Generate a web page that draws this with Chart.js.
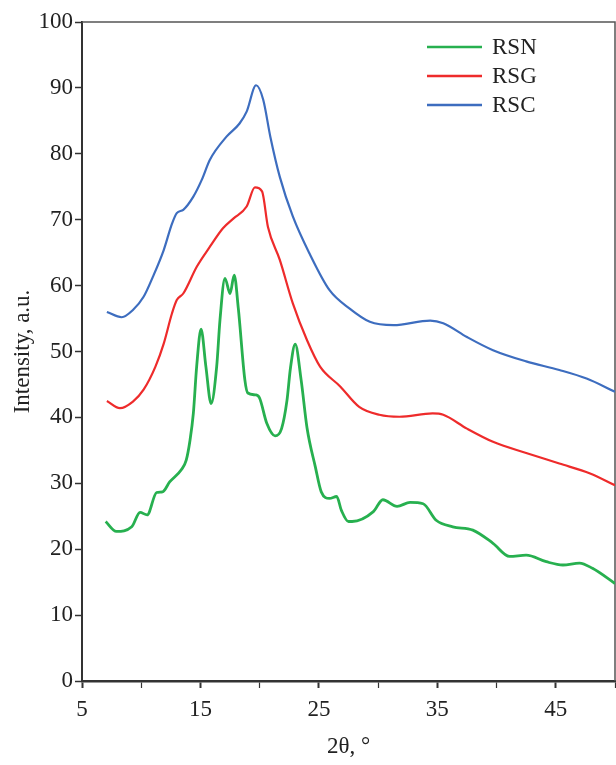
<!DOCTYPE html>
<html>
<head>
<meta charset="utf-8">
<script src="https://cdn.jsdelivr.net/npm/chart.js@4.4.1/dist/chart.umd.min.js"></script>
<style>
  html, body { margin: 0; padding: 0; background: #fff; }
  #wrap { width: 616px; height: 765px; }
</style>
</head>
<body>
<div id="wrap"><canvas id="xrd"></canvas></div>
<script>
// XRD patterns
const rsnX = [7.0, 7.9, 9.2, 9.9, 10.5, 11.3, 11.8, 12.4, 13.4, 13.8, 14.1, 14.4, 14.68, 15.05, 15.46, 15.9, 16.37, 16.65, 17.07, 17.5, 17.85, 18.2, 18.75, 19.0, 19.7, 20.0, 20.6, 21.3, 21.85, 22.3, 22.6, 23.0, 23.5, 24.0, 24.7, 25.2, 25.9, 26.5, 26.9, 27.5, 27.8, 29.6, 30.4, 31.6, 32.7, 33.8, 34.9, 36.3, 38.0, 39.7, 41.1, 42.5, 44.2, 45.6, 47.0, 48.1, 50];
const rsnY = [24.2, 22.7, 23.4, 25.6, 25.2, 28.6, 28.7, 30.2, 32.1, 33.5, 36.3, 40.6, 47.7, 53.4, 47.7, 42.1, 47.7, 54.8, 61.1, 58.8, 61.6, 56.5, 45.7, 43.7, 43.4, 42.9, 39.1, 37.2, 38.3, 42.5, 47.5, 51.1, 45.7, 38.4, 32.5, 28.7, 27.7, 28.0, 25.9, 24.2, 24.2, 25.7, 27.5, 26.5, 27.1, 26.9, 24.4, 23.4, 22.9, 20.9, 18.9, 19.1, 18.1, 17.6, 17.9, 17.1, 14.8];

const rsgX = [7.1, 8.2, 9.3, 10.2, 11.2, 11.9, 12.6, 13.0, 13.55, 14.7, 15.8, 16.9, 17.8, 18.9, 19.6, 20.2, 20.7, 21.7, 22.8, 24.0, 25.1, 26.8, 28.4, 30.1, 31.8, 34.6, 35.5, 37.5, 39.7, 42.5, 45.3, 47.9, 50];
const rsgY = [42.5, 41.4, 42.4, 44.2, 47.7, 51.2, 55.8, 57.8, 58.8, 62.9, 65.9, 68.7, 70.2, 72.0, 74.9, 74.3, 68.9, 63.9, 57.3, 51.7, 47.7, 44.7, 41.6, 40.4, 40.1, 40.6, 40.4, 38.3, 36.3, 34.6, 33.0, 31.5, 29.7];

const rscX = [7.1, 8.35, 9.3, 10.2, 11.0, 11.9, 12.6, 13.0, 13.55, 14.4, 15.1, 15.8, 17.2, 18.3, 18.9, 19.7, 20.3, 20.9, 21.7, 22.8, 24.2, 25.9, 27.6, 29.3, 31.3, 34.4, 35.5, 37.5, 39.7, 42.5, 45.3, 47.6, 50];
const rscY = [56.0, 55.2, 56.3, 58.3, 61.4, 65.4, 69.4, 71.0, 71.5, 73.5, 76.0, 79.1, 82.6, 84.6, 86.4, 90.4, 88.2, 82.6, 76.5, 70.5, 64.9, 59.3, 56.5, 54.5, 54.0, 54.7, 54.3, 52.2, 50.2, 48.5, 47.2, 45.9, 43.9];

const seriesNames = ["RSN", "RSG", "RSC"];
const xTickLabels = [5, 15, 25, 35, 45];

const FONT = "'Liberation Serif', 'DejaVu Serif', serif";
const AXIS = "#333";

const zip = (xs, ys) => xs.map((x, i) => ({ x: x, y: ys[i] }));

// box frame (top + right) and legend inside the plot
const framePlugin = {
  id: "frame",
  beforeDatasetsDraw(chart) {
    const { ctx, chartArea: a } = chart;
    ctx.save();
    ctx.strokeStyle = "#555";
    ctx.lineWidth = 1.5;
    ctx.beginPath();
    ctx.moveTo(a.left, a.top);
    ctx.lineTo(a.right, a.top);
    ctx.lineTo(a.right, a.bottom);
    ctx.stroke();
    ctx.restore();
  },
  afterDraw(chart) {
    const { ctx } = chart;
    ctx.save();
    ctx.font = "23px " + FONT;
    ctx.textBaseline = "middle";
    chart.data.datasets.forEach((ds, i) => {
      const y = 47 + i * 29;
      ctx.strokeStyle = ds.borderColor;
      ctx.lineWidth = 2.5;
      ctx.beginPath();
      ctx.moveTo(427, y);
      ctx.lineTo(482, y);
      ctx.stroke();
      ctx.fillStyle = "#222";
      ctx.fillText(ds.label, 492, y + 1);
    });
    ctx.restore();
  },
};

new Chart(document.getElementById("xrd"), {
  type: "line",
  data: {
    datasets: [
      { label: seriesNames[0], data: zip(rsnX, rsnY), borderColor: "#27b04f", borderWidth: 2.8 },
      { label: seriesNames[1], data: zip(rsgX, rsgY), borderColor: "#ee2b2b", borderWidth: 2.2 },
      { label: seriesNames[2], data: zip(rscX, rscY), borderColor: "#3d6dbf", borderWidth: 2.2 },
    ],
  },
  options: {
    responsive: true,
    maintainAspectRatio: false,
    animation: false,
    elements: {
      point: { radius: 0 },
      line: { tension: 0.35, cubicInterpolationMode: "monotone", fill: false },
    },
    layout: { padding: { top: 22, right: 1, left: 0, bottom: 0 } },
    plugins: { legend: { display: false }, tooltip: { enabled: false } },
    scales: {
      x: {
        type: "linear",
        min: 5,
        max: 50,
        afterFit: (s) => {
          s.height = 84;
          s.paddingLeft = 0;
          s.paddingRight = 0;
        },
        border: { color: AXIS, width: 2.5 },
        grid: {
          drawOnChartArea: false,
          tickLength: 7,
          tickColor: AXIS,
          tickWidth: (c) => (xTickLabels.includes(c.tick && c.tick.value) ? 2 : 1.2),
        },
        ticks: {
          stepSize: 5,
          padding: 8,
          color: "#222",
          font: { family: FONT, size: 23 },
          maxRotation: 0,
          callback: (v) => (xTickLabels.includes(v) ? String(v) : ""),
        },
        title: {
          display: true,
          text: "2θ, °",
          color: "#222",
          font: { family: FONT, size: 23 },
          padding: { bottom: 4 },
        },
      },
      y: {
        min: 0,
        max: 100,
        afterFit: (s) => { s.width = 82; },
        border: { color: AXIS, width: 2 },
        grid: { drawOnChartArea: false, tickLength: 7, tickColor: AXIS, tickWidth: 1.5 },
        ticks: {
          stepSize: 10,
          padding: 2,
          color: "#222",
          font: { family: FONT, size: 23 },
        },
        title: {
          display: true,
          text: "Intensity, a.u.",
          color: "#222",
          font: { family: FONT, size: 23 },
          padding: { top: 9 },
        },
      },
    },
  },
  plugins: [framePlugin],
});
</script>
</body>
</html>
